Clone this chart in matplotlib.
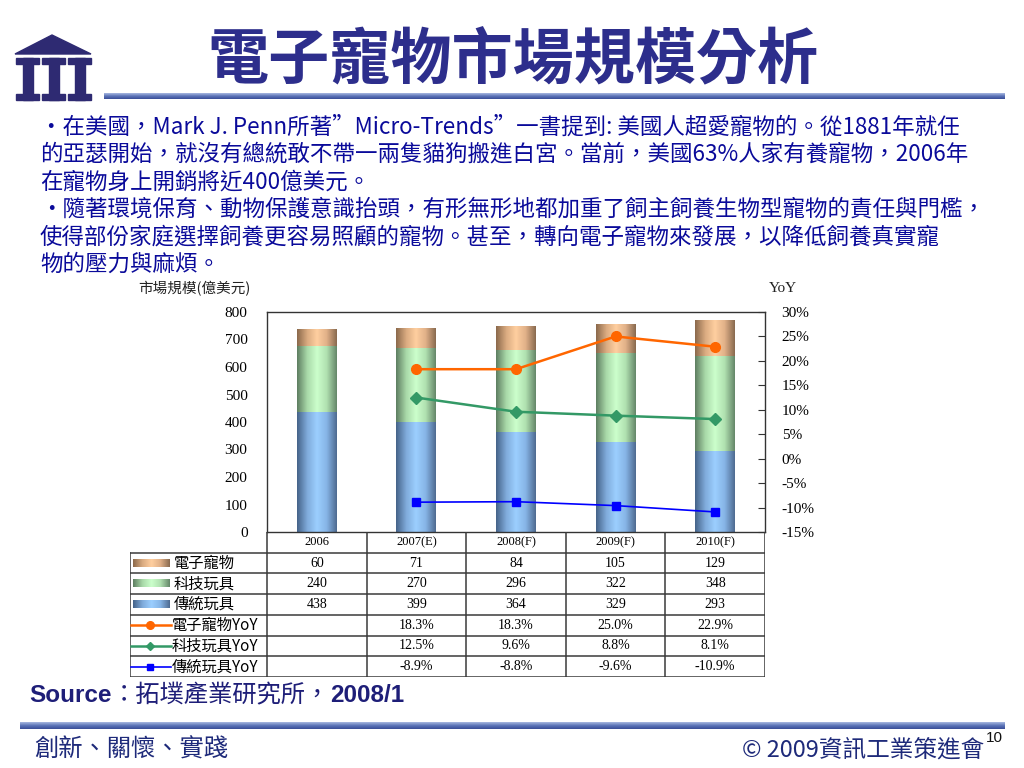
import numpy as np
import matplotlib.pyplot as plt
from matplotlib.colors import LinearSegmentedColormap
from matplotlib.patches import Polygon, Rectangle

plt.rcParams['font.family'] = ['Noto Sans CJK TC', 'DejaVu Sans']

# data
years = ['2006', '2007(E)', '2008(F)', '2009(F)', '2010(F)']
pet = [60, 71, 84, 105, 129]            # 電子寵物
tech = [240, 270, 296, 322, 348]        # 科技玩具
trad = [438, 399, 364, 329, 293]        # 傳統玩具
pet_yoy = [None, 18.3, 18.3, 25.0, 22.9]
tech_yoy = [None, 12.5, 9.6, 8.8, 8.1]
trad_yoy = [None, -8.9, -8.8, -9.6, -10.9]

bar_names = ['電子寵物', '科技玩具', '傳統玩具']
line_names = ['電子寵物YoY', '科技玩具YoY', '傳統玩具YoY']

body = [
    '•在美國，Mark J. Penn所著”Micro-Trends”一書提到: 美國人超愛寵物的。從1881年就任',
    '的亞瑟開始，就沒有總統敢不帶一兩隻貓狗搬進白宮。當前，美國63%人家有養寵物，2006年',
    '在寵物身上開銷將近400億美元。',
    '•隨著環境保育、動物保護意識抬頭，有形無形地都加重了飼主飼養生物型寵物的責任與門檻，',
    '使得部份家庭選擇飼養更容易照顧的寵物。甚至，轉向電子寵物來發展，以降低飼養真實寵',
    '物的壓力與麻煩。',
]

navy = '#2D2E8C'
text_blue = '#0A0A9A'

# gradient colour maps for the cylinder look of the bars
cm_pet = LinearSegmentedColormap.from_list('pet', ['#8C6A4C', '#D9AA80', '#FFCFA0', '#E0B088', '#8A6B50'])
cm_tech = LinearSegmentedColormap.from_list('tech', ['#5F7F62', '#A8D8A8', '#CCFFCC', '#B0E0B0', '#66886A'])
cm_trad = LinearSegmentedColormap.from_list('trad', ['#46648A', '#7FAADA', '#9CCFFF', '#86B4E6', '#4F6C92'])
bar_cmaps = [cm_pet, cm_tech, cm_trad]
line_styles = [('#FF6600', 'o', 7, 1.8), ('#339966', 'D', 6, 1.8), ('#0000FF', 's', 5.5, 1.2)]

grad = np.linspace(0, 1, 64).reshape(1, -1)

fig = plt.figure(figsize=(10.24, 7.68), dpi=100)

# decoration layer in pixel coordinates
deco = fig.add_axes([0, 0, 1, 1])
deco.set_xlim(0, 1024)
deco.set_ylim(768, 0)
deco.axis('off')

# logo
logo_c = '#2E2A72'
deco.add_patch(Polygon([[15, 54], [52, 35], [91, 54]], closed=True, color=logo_c))
for x0 in [16, 42, 68]:
    deco.add_patch(Rectangle((x0, 58), 23, 6, color=logo_c))
    deco.add_patch(Rectangle((x0, 94), 23, 6, color=logo_c))
    deco.add_patch(Rectangle((x0 + 6.5, 58), 10, 42, color=logo_c))

# title
deco.text(513, 62, '電子寵物市場規模分析', fontsize=44, fontweight='bold',
          color=navy, ha='center', va='center')

# blue gradient bands
vgrad = np.linspace(0, 1, 32).reshape(-1, 1)
band_cm = LinearSegmentedColormap.from_list('band', ['#A8B8E0', '#5C74B8', '#3A4E98'])
deco.imshow(vgrad, extent=(104, 1005, 99.5, 93.5), cmap=band_cm, aspect='auto')
deco.imshow(vgrad, extent=(20, 1005, 729.5, 723), cmap=band_cm, aspect='auto')

# body text
for i, line in enumerate(body):
    deco.text(40, 127 + i * 27.4, line, fontsize=16.2, color=text_blue,
              ha='left', va='center')

deco.text(138, 289, '市場規模(億美元)', fontsize=10.5, color='#222222', ha='left', va='center')
deco.text(769, 289, 'YoY', fontsize=11, color='#222222', ha='left', va='center',
          family=['Liberation Serif'])

# source line, pieces placed one after another
renderer = fig.canvas.get_renderer()
src_parts = [('Source', 'bold', ['Liberation Sans']),
             ('：拓墣產業研究所，', 'normal', ['Noto Sans CJK TC']),
             ('2008/1', 'bold', ['Liberation Sans'])]
xpos = 29
for s, w, fam in src_parts:
    t = deco.text(xpos, 695, s, fontsize=17.5, fontweight=w, color='#1E1E78',
                  ha='left', va='center', family=fam)
    bb = t.get_window_extent(renderer)
    xpos += bb.width

# footer
deco.text(34, 750, '創新、關懷、實踐', fontsize=17.5, color='#1E2A7A', ha='left', va='center')
deco.text(984, 750, '© 2009資訊工業策進會', fontsize=17, color='#1E2A7A', ha='right', va='center')
deco.text(986, 738, '10', fontsize=11, color='#111111', ha='left', va='center',
          family=['Liberation Sans'])

# chart
L, R, T, B = 267, 765, 312, 532
ax = fig.add_axes([L / 1024, 1 - B / 768, (R - L) / 1024, (B - T) / 768])
x = np.arange(len(years))
ax.set_xlim(-0.5, len(years) - 0.5)
ax.set_ylim(0, 800)
ax.set_yticks(range(0, 801, 100))
ax.set_xticks([])
ax.tick_params(axis='y', length=0, pad=14, labelsize=11)
for lab in ax.get_yticklabels():
    lab.set_family(['Liberation Serif'])
for s in ax.spines.values():
    s.set_linewidth(1.0)
    s.set_color('#333333')

bottoms = np.zeros(len(years))
stack = [(trad, cm_trad), (tech, cm_tech), (pet, cm_pet)]
for vals, cmap in stack:
    rects = ax.bar(x, vals, width=0.4, bottom=bottoms, color='none', edgecolor='none')
    for r in rects:
        ax.imshow(grad, extent=(r.get_x(), r.get_x() + r.get_width(), r.get_y(), r.get_y() + r.get_height()),
                  cmap=cmap, aspect='auto', zorder=1)
    bottoms = bottoms + np.array(vals)
ax.set_xlim(-0.5, len(years) - 0.5)
ax.set_ylim(0, 800)

ax2 = ax.twinx()
ax2.set_ylim(-15, 30)
ax2.set_yticks(range(-15, 31, 5))
ax2.set_yticklabels([f'{v}%' for v in range(-15, 31, 5)])
ax2.tick_params(axis='y', direction='in', length=5, pad=12, labelsize=11, color='#333333')
for lab in ax2.get_yticklabels():
    lab.set_family(['Liberation Serif'])
for s in ax2.spines.values():
    s.set_visible(False)

for series, (c, m, ms, lw) in zip([pet_yoy, tech_yoy, trad_yoy], line_styles):
    xs = [i for i, v in enumerate(series) if v is not None]
    ys = [v for v in series if v is not None]
    ax2.plot(xs, ys, color=c, marker=m, markersize=ms, linewidth=lw, markeredgecolor=c)

# data table under the chart
TB = 677
tab = fig.add_axes([130 / 1024, 1 - TB / 768, (R - 130) / 1024, (TB - B) / 768])
n_rows = 7
x_left = -0.5 - (L - 130) / ((R - L) / len(years))
tab.set_xlim(x_left, len(years) - 0.5)
tab.set_ylim(n_rows, 0)
tab.axis('off')

lc = '#3A3A3A'
for k in range(1, n_rows + 1):
    tab.plot([x_left, len(years) - 0.5], [k, k], color=lc, lw=1.1)
tab.plot([x_left, x_left], [1, n_rows], color=lc, lw=1.1)
for k in range(len(years) + 1):
    tab.plot([k - 0.5, k - 0.5], [0, n_rows], color=lc, lw=1.1)

for i, yr in enumerate(years):
    tab.text(i, 0.5, yr, ha='center', va='center', fontsize=9, family=['Liberation Serif'])

rows_vals = [pet, tech, trad]
for j, (name, vals, cmap) in enumerate(zip(bar_names, rows_vals, bar_cmaps)):
    yc = 1.5 + j
    tab.imshow(grad, extent=(x_left + 0.03, x_left + 0.40, yc + 0.17, yc - 0.17),
               cmap=cmap, aspect='auto')
    tab.text(x_left + 0.44, yc, name, ha='left', va='center', fontsize=11)
    for i, v in enumerate(vals):
        tab.text(i, yc, str(v), ha='center', va='center', fontsize=10, family=['Liberation Serif'])

for j, (name, vals, (c, m, ms, lw)) in enumerate(zip(line_names, [pet_yoy, tech_yoy, trad_yoy], line_styles)):
    yc = 4.5 + j
    tab.plot([x_left + 0.01, x_left + 0.41], [yc, yc], color=c, lw=lw)
    tab.plot([x_left + 0.20], [yc], marker=m, color=c, markersize=ms - 1.5)
    tab.text(x_left + 0.42, yc, name, ha='left', va='center', fontsize=11)
    for i, v in enumerate(vals):
        if v is not None:
            tab.text(i, yc, f'{v:.1f}%', ha='center', va='center', fontsize=10,
                     family=['Liberation Serif'])
tab.set_xlim(x_left, len(years) - 0.5)
tab.set_ylim(n_rows, 0)

fig.savefig('out.png', dpi=100)
